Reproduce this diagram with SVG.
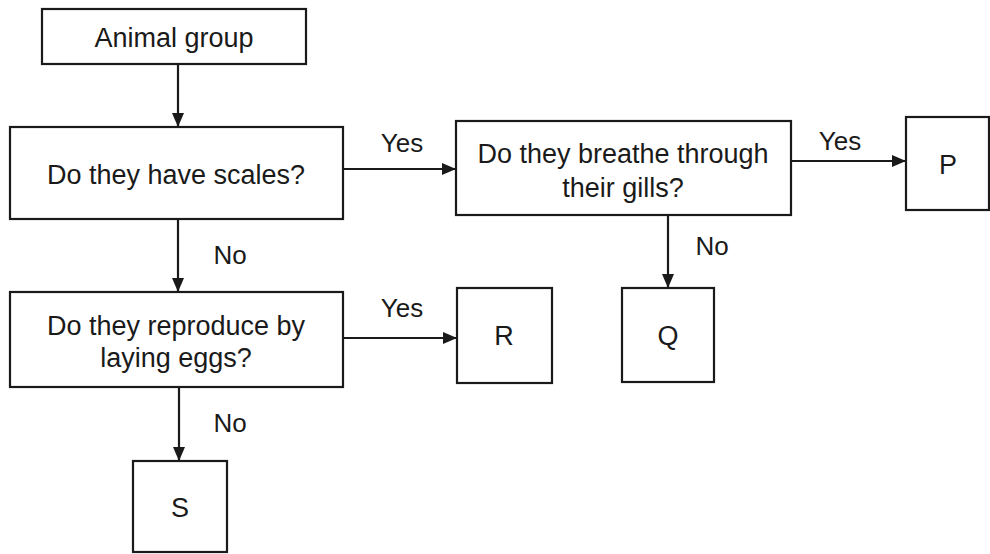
<svg xmlns="http://www.w3.org/2000/svg" width="990" height="554" viewBox="0 0 990 554">
<style>
.box{fill:#fff;stroke:#1a1a1a;stroke-width:2.2}
.t{font-family:"Liberation Sans",Arial,sans-serif;font-size:27px;fill:#1a1a1a;text-anchor:middle}
.l{font-family:"Liberation Sans",Arial,sans-serif;font-size:26px;fill:#1a1a1a;text-anchor:middle}
.c{stroke:#1a1a1a;stroke-width:2.2;fill:none;marker-end:url(#ah)}
</style>
<defs>
<marker id="ah" markerWidth="14" markerHeight="12" refX="14" refY="6" orient="auto" markerUnits="userSpaceOnUse">
<path d="M0,0 L14,6 L0,12 Z" fill="#1a1a1a"/>
</marker>
</defs>
<rect width="990" height="554" fill="#fff"/>
<g id="connectors">
<line class="c" x1="178" y1="64" x2="178" y2="127"/>
<line class="c" x1="343" y1="169" x2="456" y2="169"/>
<line class="c" x1="791" y1="161" x2="906" y2="161"/>
<line class="c" x1="668" y1="215" x2="668" y2="288"/>
<line class="c" x1="178" y1="219" x2="178" y2="292"/>
<line class="c" x1="343" y1="338" x2="457" y2="338"/>
<line class="c" x1="179" y1="387" x2="179" y2="461"/>
<text class="l" x="402" y="152">Yes</text>
<text class="l" x="840" y="150">Yes</text>
<text class="l" x="712" y="255">No</text>
<text class="l" x="230" y="264">No</text>
<text class="l" x="402" y="317">Yes</text>
<text class="l" x="230" y="432">No</text>
</g>
<g id="animal-group">
<rect class="box" x="42" y="9" width="264" height="55"/>
<text class="t" x="174" y="47">Animal group</text>
</g>
<g id="scales">
<rect class="box" x="10" y="127" width="333" height="92"/>
<text class="t" x="176" y="184">Do they have scales?</text>
</g>
<g id="gills">
<rect class="box" x="456" y="121" width="335" height="94"/>
<text class="t" x="623" y="163">Do they breathe through</text>
<text class="t" x="623" y="197">their gills?</text>
</g>
<g id="P">
<rect class="box" x="906" y="117" width="83" height="93"/>
<text class="t" x="948" y="174">P</text>
</g>
<g id="eggs">
<rect class="box" x="10" y="292" width="333" height="95"/>
<text class="t" x="176" y="335">Do they reproduce by</text>
<text class="t" x="176" y="367">laying eggs?</text>
</g>
<g id="R">
<rect class="box" x="457" y="288" width="95" height="95"/>
<text class="t" x="504" y="345">R</text>
</g>
<g id="Q">
<rect class="box" x="622" y="288" width="92" height="94"/>
<text class="t" x="668" y="345">Q</text>
</g>
<g id="S">
<rect class="box" x="133" y="461" width="94" height="91"/>
<text class="t" x="180" y="517">S</text>
</g>
</svg>
